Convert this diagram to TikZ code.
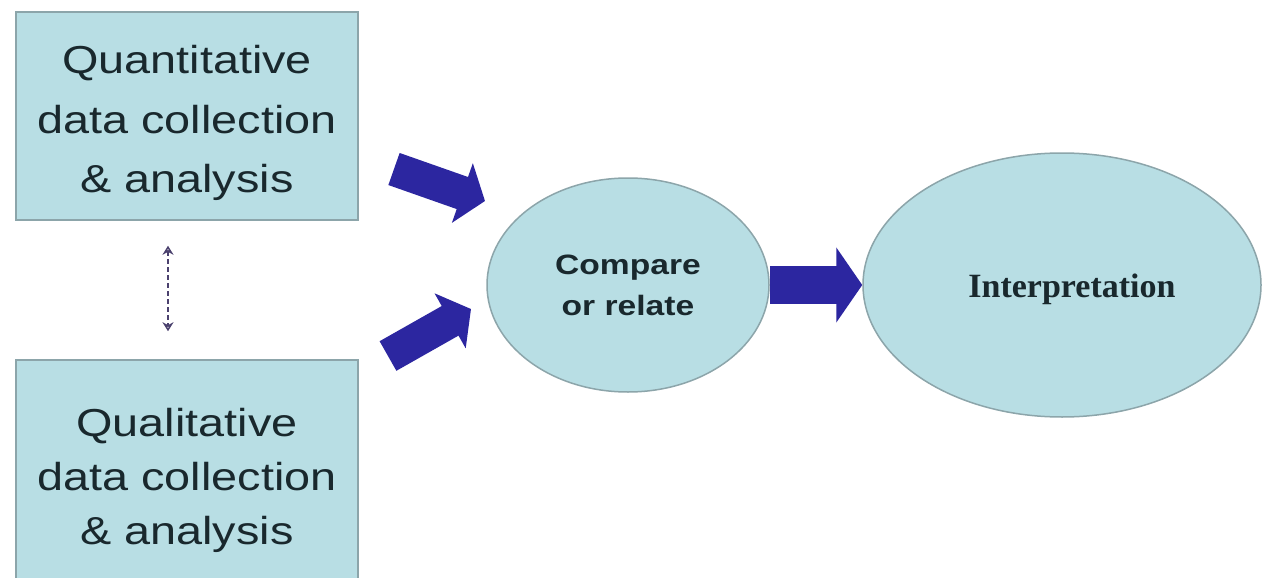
\documentclass[tikz,border=0pt]{standalone}
\usepackage{fontspec}
\setmainfont{Liberation Sans}
\newfontfamily\boxfont[FakeStretch=1.2]{Liberation Sans}
\newfontfamily\intfont{Liberation Serif}
\usetikzlibrary{arrows.meta,shapes.geometric}
\definecolor{boxfill}{RGB}{184,222,228}
\definecolor{boxline}{RGB}{140,165,170}
\definecolor{txt}{RGB}{25,40,45}
\definecolor{arrowblue}{RGB}{44,38,160}
\definecolor{dashcol}{RGB}{75,65,110}
\begin{document}
\begin{tikzpicture}[x=1pt,y=-1pt,
  databox/.style={draw=boxline, line width=1.5pt, fill=boxfill, inner sep=0pt},
  datatext/.style={text=txt, align=center, inner sep=0pt, font=\boxfont\fontsize{39}{59.5}\selectfont},
  ovalnode/.style={ellipse, draw=boxline, line width=1.5pt, fill=boxfill, inner sep=0pt},
  blockarrow/.style={draw=arrowblue, line width=34pt, -{Triangle[length=24pt,width=62pt]}},
  bigblockarrow/.style={draw=arrowblue, line width=38pt, -{Triangle[length=26pt,width=74pt]}},
  linkarrow/.style={draw=dashcol, line width=2pt, dash pattern=on 5pt off 3pt, {Stealth[length=9pt,width=11pt,open]}-{Stealth[length=9pt,width=11pt,open]}}
]
\useasboundingbox (0,0) rectangle (1269,578);
\fill[white] (0,0) rectangle (1269,578);

% boxes
\node[databox, minimum width=342pt, minimum height=208pt] (quant) at (187,116) {};
\node[datatext] (quanttext) at (187,123) {Quantitative\\data collection\\\& analysis};
\node[databox, minimum width=342pt, minimum height=224pt] (qual) at (187,472) {};
\node[datatext, font=\boxfont\fontsize{39}{54}\selectfont] (qualtext) at (187,480) {Qualitative\\data collection\\\& analysis};

% ellipses
\node[ovalnode, minimum width=282pt, minimum height=214pt,
      text=txt, align=center, font=\boxfont\bfseries\fontsize{28}{41}\selectfont] (cmp) at (628,285) {Compare\\or relate};
\node[ovalnode, minimum width=398pt, minimum height=264pt] (interp) at (1062,285) {};
\node[anchor=base, inner sep=0pt, text=txt, font=\intfont\bfseries\fontsize{34}{40}\selectfont] (interptext) at (1072,297) {Interpretation};

% connectors
\coordinate (a1s) at (394,169);
\coordinate (a1e) at (485,201);
\coordinate (a2s) at (388,356);
\coordinate (a2e) at (471,309);
\draw[blockarrow] (a1s) -- (a1e);
\draw[blockarrow] (a2s) -- (a2e);
\draw[bigblockarrow] (cmp.east) -- (interp.west);
\draw[linkarrow] ([xshift=-19pt,yshift=-25pt]quant.south) -- ([xshift=-19pt,yshift=28pt]qual.north);
\end{tikzpicture}
\end{document}
